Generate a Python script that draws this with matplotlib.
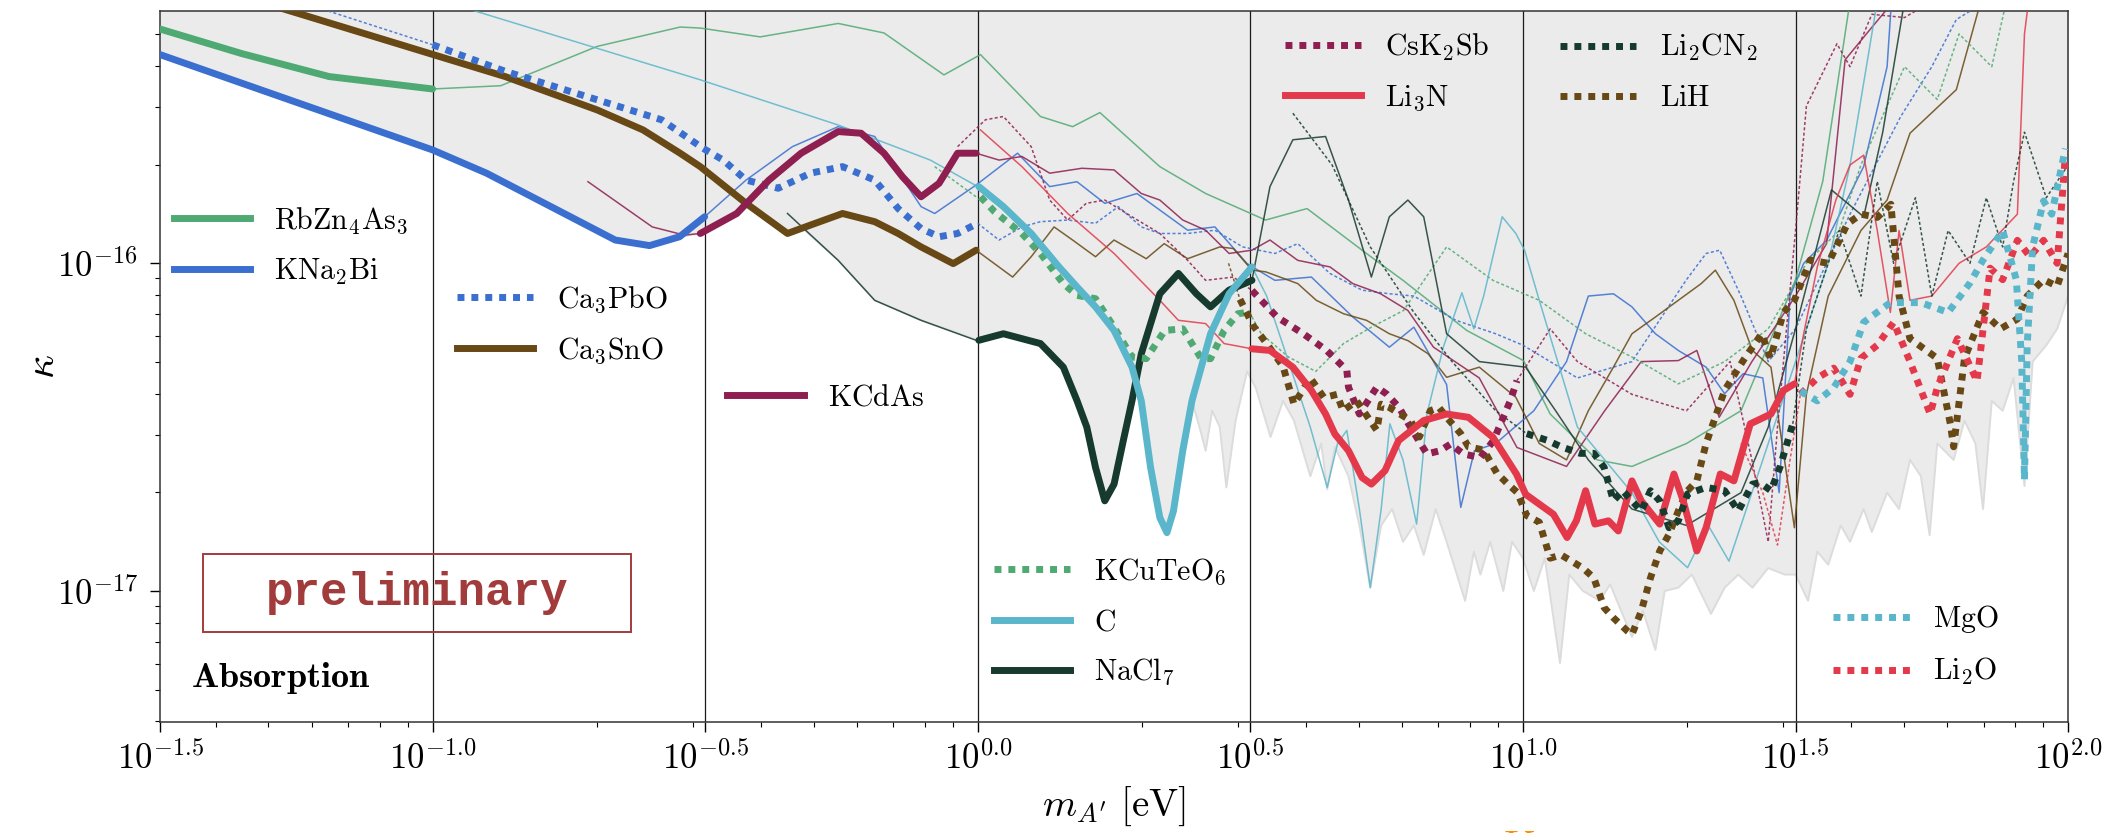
import numpy as np
import matplotlib
matplotlib.use("Agg")
import matplotlib.pyplot as plt
from matplotlib.lines import Line2D
from matplotlib.patches import Rectangle
from matplotlib.ticker import FixedLocator, FixedFormatter, LogLocator, NullFormatter

plt.rcParams['mathtext.fontset'] = 'cm'
plt.rcParams['font.family'] = ['DejaVu Serif']

# ---------------------------------------------------------------------------
# Data: log10 of dark-photon mass m_A' [eV] and log10 of kinetic mixing kappa
# ---------------------------------------------------------------------------

# RbZn4As3
rbzn_thick_lm = [-1.5, -1.35, -1.19, -1.0]
rbzn_thick_lk = [-15.285, -15.36, -15.43, -15.468]
rbzn_thin_lm = [-1.0, -0.875, -0.698, -0.546, -0.509, -0.399, -0.256, -0.172, -0.062, 0.005,
                0.115, 0.174, 0.224, 0.334, 0.418, 0.528, 0.604, 0.713, 0.78, 0.897, 1.001,
                1.05, 1.136, 1.2, 1.3, 1.4, 1.5, 1.55, 1.6, 1.62]
rbzn_thin_lk = [-15.468, -15.458, -15.338, -15.279, -15.282, -15.309, -15.268, -15.297, -15.425, -15.363,
                -15.552, -15.583, -15.54, -15.705, -15.787, -15.868, -15.833, -15.97, -16.052, -16.205, -16.297,
                -16.46, -16.6, -16.62, -16.55, -16.45, -16.05, -15.75, -15.2, -15.1]

# KNa2Bi
kna_thick_lm = [-1.5, -1.0, -0.901, -0.665, -0.602, -0.547, -0.501]
kna_thick_lk = [-15.363, -15.654, -15.725, -15.929, -15.946, -15.919, -15.858]
kna_thin_lm = [-0.501, -0.425, -0.34, -0.256, -0.189, -0.104, -0.079, -0.003, 0.073, 0.132, 0.182,
               0.233, 0.292, 0.385, 0.435, 0.494, 0.545, 0.612, 0.688, 0.755, 0.80, 0.86, 0.886,
               0.911, 0.95, 1.02, 1.08, 1.12, 1.166, 1.2, 1.243, 1.285, 1.336, 1.37, 1.404, 1.44,
               1.47, 1.49, 1.515, 1.557, 1.625, 1.668, 1.68]
kna_thin_lk = [-15.858, -15.746, -15.644, -15.583, -15.613, -15.827, -15.848, -15.761, -15.664, -15.766, -15.751,
               -15.817, -15.787, -15.899, -15.889, -16.001, -16.052, -16.042, -16.164, -16.256, -16.195, -16.37, -16.745,
               -16.572, -16.55, -16.45, -16.3, -16.1, -16.093, -16.133, -16.215, -16.266, -16.317, -16.398, -16.337, -16.35,
               -16.7, -16.1, -16.0, -15.93, -15.705, -15.4, -15.1]

# Ca3PbO
capb_pre_lm = [-1.21, -1.0]
capb_pre_lk = [-15.22, -15.333]
capb_thick_lm = [-1.0, -0.867, -0.698, -0.58, -0.504, -0.467, -0.425, -0.366, -0.307, -0.248, -0.189,
                 -0.146, -0.104, -0.071, -0.037, 0.0]
capb_thick_lk = [-15.333, -15.414, -15.501, -15.562, -15.649, -15.685, -15.746, -15.771, -15.725, -15.705, -15.746,
                 -15.833, -15.894, -15.919, -15.909, -15.878]
capb_thin_lm = [0.0, 0.039, 0.081, 0.115, 0.165, 0.216, 0.258, 0.3, 0.334, 0.385, 0.435, 0.486, 0.545, 0.587,
                0.646, 0.705, 0.755, 0.8, 0.877, 0.95, 1.0, 1.1, 1.2, 1.3, 1.336, 1.361, 1.4, 1.45, 1.5,
                1.6, 1.693, 1.75, 1.795, 1.85]
capb_thin_lk = [-15.878, -15.929, -15.889, -15.873, -15.868, -15.878, -15.827, -15.889, -15.909, -15.909, -15.899,
                -15.95, -15.97, -15.94, -16.031, -16.082, -16.093, -16.1, -16.174, -16.215, -16.25, -16.35, -16.3,
                -16.05, -15.97, -15.96, -16.1, -16.3, -16.2, -15.85, -15.552, -15.4, -15.256, -15.2]

# Ca3SnO
casn_thick_lm = [-1.32, -0.999, -0.867, -0.698, -0.614, -0.546, -0.509, -0.425, -0.349, -0.298, -0.248,
                 -0.189, -0.146, -0.104, -0.045, -0.003]
casn_thick_lk = [-15.2, -15.363, -15.43, -15.532, -15.593, -15.664, -15.705, -15.817, -15.909, -15.878, -15.848,
                 -15.873, -15.909, -15.95, -16.001, -15.96]
casn_thin_lm = [-0.003, 0.064, 0.098, 0.14, 0.174, 0.216, 0.25, 0.309, 0.342, 0.385, 0.444, 0.469, 0.503,
                0.528, 0.587, 0.621, 0.671, 0.713, 0.755, 0.789, 0.826, 0.86, 0.92, 0.987, 1.03, 1.08, 1.12,
                1.166, 1.2, 1.243, 1.285, 1.327, 1.353, 1.387, 1.421, 1.455, 1.498, 1.52, 1.56, 1.62, 1.668,
                1.71, 1.795, 1.84]
casn_thin_lk = [-15.96, -16.042, -15.98, -15.889, -15.929, -15.98, -15.929, -15.986, -15.94, -15.986, -15.95,
                -15.955, -16.021, -16.026, -16.062, -16.113, -16.154, -16.174, -16.215, -16.236, -16.276, -16.348,
                -16.317, -16.409, -16.55, -16.6, -16.45, -16.317, -16.215, -16.164, -16.113, -16.062, -16.021,
                -16.113, -16.266, -16.317, -16.807, -16.4, -16.1, -15.9, -15.807, -15.603, -15.47, -15.2]

# KCdAs
kcd_pre_lm = [-0.715, -0.597, -0.538, -0.509]
kcd_pre_lk = [-15.751, -15.889, -15.914, -15.909]
kcd_thick_lm = [-0.509, -0.442, -0.383, -0.324, -0.256, -0.214, -0.172, -0.138, -0.104, -0.071, -0.037, -0.003]
kcd_thick_lk = [-15.909, -15.848, -15.746, -15.664, -15.598, -15.603, -15.664, -15.736, -15.797, -15.756,
                -15.664, -15.664]
kcd_thin_lm = [-0.003, 0.039, 0.081, 0.132, 0.191, 0.25, 0.3, 0.334, 0.376, 0.418, 0.461, 0.503, 0.536, 0.587,
               0.646, 0.688, 0.739, 0.789, 0.836, 0.92, 0.989, 1.08, 1.15, 1.217, 1.285, 1.319, 1.36, 1.42,
               1.5, 1.557, 1.591, 1.63, 1.68]
kcd_thin_lk = [-15.664, -15.685, -15.674, -15.725, -15.71, -15.715, -15.787, -15.807, -15.868, -15.899, -15.97,
               -15.96, -15.929, -15.991, -16.011, -16.062, -16.093, -16.144, -16.256, -16.35, -16.562, -16.62,
               -16.45, -16.3, -16.297, -16.266, -16.47, -16.3, -16.1, -15.94, -15.379, -15.3, -15.2]

# KCuTeO6
kcu_pre_lm = [-0.079, -0.003]
kcu_pre_lk = [-15.705, -15.797]
kcu_thick_lm = [0.005, 0.031, 0.081, 0.115, 0.157, 0.182, 0.216, 0.25, 0.283, 0.309, 0.343, 0.376, 0.41,
                0.427, 0.452, 0.477, 0.498]
kcu_thick_lk = [-15.797, -15.843, -15.909, -15.97, -16.062, -16.098, -16.108, -16.195, -16.286, -16.291,
                -16.205, -16.2, -16.291, -16.291, -16.205, -16.154, -16.149]
kcu_thin_lm = [0.498, 0.52, 0.57, 0.62, 0.671, 0.722, 0.781, 0.86, 0.945, 1.03, 1.115, 1.2, 1.285, 1.37, 1.45,
               1.52, 1.58, 1.62, 1.7, 1.76, 1.8, 1.86, 1.9]
kcu_thin_lk = [-16.149, -16.215, -16.286, -16.33, -16.245, -16.195, -16.144, -15.95, -16.052, -16.113, -16.215,
               -16.286, -16.368, -16.3, -16.2, -16.0, -15.9, -15.7, -15.4, -15.5, -15.3, -15.4, -15.1]

# C
c_pre_lm = [-0.93, -0.509, -0.256, -0.087, 0.0]
c_pre_lk = [-15.226, -15.44, -15.578, -15.685, -15.766]
c_thick_lm = [0.002, 0.047, 0.098, 0.149, 0.182, 0.216, 0.25, 0.283, 0.3, 0.317, 0.334, 0.347, 0.359, 0.376,
              0.393, 0.427, 0.461, 0.503]
c_thick_lk = [-15.766, -15.827, -15.909, -16.011, -16.072, -16.133, -16.205, -16.317, -16.42, -16.623, -16.776,
              -16.822, -16.756, -16.572, -16.419, -16.215, -16.093, -16.011]
c_thin_lm = [0.503, 0.53, 0.57, 0.61, 0.641, 0.66, 0.677, 0.7, 0.72, 0.74, 0.756, 0.78, 0.805, 0.824, 0.854,
             0.888, 0.91, 0.928, 0.962, 0.987, 1.003, 1.03, 1.1, 1.2, 1.25, 1.302, 1.34, 1.378, 1.42, 1.46,
             1.5, 1.56, 1.6, 1.64, 1.66]
c_thin_lk = [-16.011, -16.1, -16.3, -16.5, -16.684, -16.55, -16.51, -16.75, -16.99, -16.75, -16.49, -16.6,
             -16.796, -16.46, -16.256, -16.09, -16.2, -16.1, -15.858, -15.909, -15.96, -16.113, -16.5, -16.7,
             -16.85, -16.929, -16.8, -16.909, -16.7, -16.5, -16.3, -16.0, -15.7, -15.3, -15.1]

# NaCl7
nacl_pre_lm = [-0.349, -0.256, -0.189, -0.104, -0.003]
nacl_pre_lk = [-15.848, -15.991, -16.113, -16.174, -16.235]
nacl_thick_lm = [0.002, 0.047, 0.115, 0.157, 0.182, 0.2, 0.216, 0.233, 0.25, 0.267, 0.283, 0.3, 0.334, 0.368,
                 0.401, 0.427, 0.461, 0.503]
nacl_thick_lk = [-16.235, -16.215, -16.245, -16.317, -16.419, -16.5, -16.623, -16.725, -16.674, -16.541,
                 -16.419, -16.276, -16.093, -16.031, -16.093, -16.133, -16.082, -16.052]
nacl_thin_lm = [0.503, 0.536, 0.578, 0.638, 0.68, 0.722, 0.755, 0.789, 0.818, 0.86, 0.92, 1.005, 1.06, 1.12,
                1.2, 1.3, 1.4, 1.45, 1.5, 1.566, 1.625, 1.66, 1.7]
nacl_thin_lk = [-16.052, -15.766, -15.623, -15.613, -15.807, -16.042, -15.858, -15.807, -15.858, -16.215, -16.3,
                -16.317, -16.45, -16.6, -16.75, -16.8, -16.7, -16.5, -16.2, -15.776, -15.858, -15.6, -15.2]

# CsK2Sb
csk_pre_lm = [-0.037, 0.014, 0.047, 0.098, 0.132, 0.165, 0.199, 0.233, 0.283, 0.334, 0.385, 0.418, 0.469, 0.503]
csk_pre_lk = [-15.644, -15.562, -15.552, -15.644, -15.807, -15.868, -15.817, -15.807, -15.858, -15.909, -15.991,
              -16.052, -16.042, -16.083]
csk_thick_lm = [0.503, 0.549, 0.597, 0.64, 0.677, 0.68, 0.70, 0.732, 0.75, 0.773, 0.79, 0.824, 0.848, 0.867,
                0.891, 0.922, 0.946, 0.964, 0.977, 0.989]
csk_thick_lk = [-16.083, -16.164, -16.215, -16.266, -16.327, -16.378, -16.46, -16.378, -16.399, -16.44, -16.49,
                -16.582, -16.572, -16.552, -16.582, -16.593, -16.541, -16.47, -16.419, -16.358]
csk_thin_lm = [0.989, 1.05, 1.1, 1.2, 1.3, 1.38, 1.42, 1.45, 1.467, 1.5, 1.52, 1.576, 1.6, 1.64, 1.7, 1.75]
csk_thin_lk = [-16.358, -16.2, -16.3, -16.4, -16.45, -16.3, -16.6, -16.85, -16.5, -15.9, -15.52, -15.33, -15.4,
               -15.24, -15.25, -15.2]

# Li3N
li3n_pre_lm = [0.005, 0.081, 0.165, 0.25, 0.334, 0.368, 0.418, 0.452, 0.503]
li3n_pre_lk = [-15.593, -15.705, -15.848, -15.97, -16.113, -16.174, -16.184, -16.245, -16.261]
li3n_thick_lm = [0.503, 0.536, 0.578, 0.612, 0.638, 0.655, 0.68, 0.705, 0.722, 0.747, 0.772, 0.818, 0.86, 0.9,
                 0.945, 0.988, 1.005, 1.03, 1.056, 1.081, 1.098, 1.115, 1.132, 1.157, 1.175, 1.2, 1.217, 1.251,
                 1.277, 1.294, 1.319, 1.336, 1.362, 1.387, 1.417, 1.455, 1.478, 1.498]
li3n_thick_lk = [-16.261, -16.266, -16.317, -16.388, -16.46, -16.521, -16.572, -16.654, -16.674, -16.633,
                 -16.541, -16.48, -16.46, -16.47, -16.531, -16.643, -16.705, -16.735, -16.766, -16.837, -16.786,
                 -16.694, -16.796, -16.786, -16.817, -16.664, -16.725, -16.796, -16.643, -16.725, -16.878, -16.807,
                 -16.643, -16.664, -16.49, -16.46, -16.388, -16.368]
li3n_thin_lm = [1.498, 1.515, 1.54, 1.574, 1.6, 1.625, 1.65, 1.674, 1.69, 1.71, 1.75, 1.8, 1.85, 1.907, 1.92, 1.935]
li3n_thin_lk = [-16.368, -16.215, -16.011, -15.807, -15.7, -15.67, -15.9, -16.15, -15.9, -16.113, -16.1, -16.0,
                -15.95, -15.85, -15.3, -15.1]

# Li2CN2
licn_pre_lm = [0.578, 0.65, 0.72, 0.8, 0.87, 0.95, 1.007]
licn_pre_lk = [-15.542, -15.7, -15.95, -16.15, -16.3, -16.45, -16.52]
licn_thick_lm = [1.007, 1.044, 1.07, 1.105, 1.13, 1.149, 1.166, 1.183, 1.217, 1.234, 1.251, 1.268, 1.285,
                 1.302, 1.319, 1.336, 1.37, 1.395, 1.421, 1.435, 1.455, 1.472, 1.495]
licn_thick_lk = [-16.52, -16.54, -16.56, -16.58, -16.58, -16.623, -16.725, -16.694, -16.756, -16.694, -16.725,
                 -16.807, -16.786, -16.704, -16.694, -16.684, -16.694, -16.756, -16.674, -16.67, -16.694, -16.62,
                 -16.49]
licn_thin_lm = [1.495, 1.52, 1.55, 1.58, 1.62, 1.65, 1.68, 1.72, 1.75, 1.78, 1.82, 1.85, 1.88, 1.9, 1.92, 1.96, 2.0]
licn_thin_lk = [-16.49, -16.2, -16.05, -15.9, -16.1, -15.75, -16.0, -15.8, -16.1, -15.9, -16.0, -15.8, -15.95,
                -15.75, -15.6, -15.8, -15.7]

# LiH
lih_pre_lm = [0.46, 0.481]
lih_pre_lk = [-16.0, -16.11]
lih_thick_lm = [0.481, 0.505, 0.53, 0.56, 0.58, 0.61, 0.635, 0.659, 0.67, 0.695, 0.732, 0.74, 0.755, 0.794,
                0.81, 0.83, 0.846, 0.86, 0.886, 0.90, 0.928, 0.952, 0.97, 0.99, 1.007, 1.03, 1.05, 1.07, 1.11,
                1.13, 1.149, 1.166, 1.192, 1.2, 1.217, 1.234, 1.251, 1.268, 1.285, 1.302, 1.319, 1.336, 1.37,
                1.404, 1.438, 1.454, 1.478, 1.498, 1.527, 1.56, 1.595, 1.62, 1.65, 1.675, 1.69, 1.71, 1.76,
                1.784, 1.79, 1.81, 1.844, 1.876, 1.907, 1.925, 1.955, 1.98, 2.0]
lih_thick_lk = [-16.11, -16.19, -16.245, -16.315, -16.43, -16.35, -16.41, -16.4, -16.45, -16.42, -16.51, -16.43,
                -16.44, -16.48, -16.53, -16.45, -16.44, -16.47, -16.52, -16.56, -16.57, -16.64, -16.67, -16.7,
                -16.77, -16.79, -16.9, -16.89, -16.93, -16.96, -17.051, -17.082, -17.123, -17.133, -17.062,
                -16.96, -16.878, -16.827, -16.756, -16.694, -16.664, -16.55, -16.388, -16.297, -16.215, -16.29,
                -16.15, -16.113, -15.99, -16.0, -15.88, -15.85, -15.86, -15.82, -16.1, -16.23, -16.29, -16.49,
                -16.56, -16.29, -16.15, -16.2, -16.17, -16.1, -16.05, -16.07, -15.97]

# MgO
mgo_thick_lm = [1.509, 1.54, 1.57, 1.6, 1.625, 1.674, 1.73, 1.78, 1.82, 1.844, 1.88, 1.905, 1.915, 1.92, 1.925,
                1.935, 1.955, 1.97, 1.995]
mgo_thick_lk = [-16.39, -16.42, -16.38, -16.3, -16.18, -16.12, -16.12, -16.15, -16.06, -15.99, -15.9, -16.05,
                -16.3, -16.66, -16.25, -15.95, -15.81, -15.85, -15.65]

# Li2O
li2o_pre_lm = [1.40, 1.44, 1.467, 1.49, 1.509]
li2o_pre_lk = [-16.55, -16.7, -16.86, -16.6, -16.4]
li2o_thick_lm = [1.509, 1.54, 1.57, 1.6, 1.62, 1.65, 1.68, 1.71, 1.747, 1.76, 1.797, 1.833, 1.857, 1.88, 1.907,
                 1.93, 1.955, 1.98, 1.995]
li2o_thick_lk = [-16.4, -16.35, -16.32, -16.4, -16.29, -16.25, -16.18, -16.3, -16.46, -16.38, -16.23, -16.36,
                 -16.015, -16.05, -15.93, -15.98, -15.93, -16.0, -15.67]

# Lower edge of the combined reach (grey band)
env_lm = [-1.5, -1.0, -0.9, -0.665, -0.602, -0.547, -0.509, -0.47, -0.425, -0.383, -0.349, -0.32, -0.256,
          -0.189, -0.104, 0.0, 0.047, 0.115, 0.157, 0.182, 0.2, 0.216, 0.233, 0.25, 0.267, 0.283, 0.29, 0.3,
          0.317, 0.334, 0.347, 0.359, 0.376, 0.393, 0.41, 0.418, 0.43, 0.444, 0.456, 0.473, 0.494, 0.51, 0.537,
          0.56, 0.58, 0.61, 0.63, 0.641, 0.655, 0.68, 0.7, 0.72, 0.74, 0.76, 0.78, 0.80, 0.818, 0.84, 0.86,
          0.894, 0.91, 0.922, 0.94, 0.964, 0.98, 1.0, 1.02, 1.04, 1.068, 1.085, 1.11, 1.141, 1.16, 1.2, 1.22,
          1.243, 1.26, 1.285, 1.31, 1.345, 1.37, 1.395, 1.421, 1.45, 1.48, 1.5, 1.523, 1.54, 1.56, 1.583, 1.6,
          1.625, 1.64, 1.668, 1.69, 1.71, 1.73, 1.746, 1.76, 1.79, 1.81, 1.83, 1.844, 1.86, 1.88, 1.9, 1.92,
          1.935, 1.96, 1.98, 2.0]
env_lk = [-15.363, -15.654, -15.725, -15.929, -15.946, -15.919, -15.909, -15.87, -15.82, -15.865, -15.909,
          -15.895, -15.991, -16.113, -16.174, -16.235, -16.215, -16.245, -16.317, -16.419, -16.5, -16.623,
          -16.725, -16.674, -16.541, -16.419, -16.36, -16.42, -16.623, -16.776, -16.822, -16.756, -16.572,
          -16.419, -16.52, -16.572, -16.45, -16.5, -16.684, -16.48, -16.33, -16.38, -16.53, -16.42, -16.48,
          -16.65, -16.55, -16.69, -16.56, -16.65, -16.8, -16.99, -16.8, -16.75, -16.85, -16.8, -16.89, -16.75,
          -16.85, -17.03, -16.88, -16.95, -16.85, -17.0, -16.85, -16.9, -17.0, -16.9, -17.22, -16.95, -17.0,
          -17.03, -16.98, -17.14, -17.06, -17.18, -17.0, -16.99, -16.95, -17.07, -16.99, -16.95, -16.99, -16.93,
          -16.95, -16.95, -17.03, -16.88, -16.92, -16.8, -16.85, -16.75, -16.82, -16.7, -16.75, -16.6, -16.65,
          -16.83, -16.55, -16.6, -16.48, -16.55, -16.75, -16.42, -16.45, -16.35, -16.68, -16.3, -16.25, -16.2,
          -16.1]

# Axis ticks
xtick_exp = [-1.5, -1.0, -0.5, 0.0, 0.5, 1.0, 1.5, 2.0]
xtick_labels = [r'$10^{-1.5}$', r'$10^{-1.0}$', r'$10^{-0.5}$', r'$10^{0.0}$',
                r'$10^{0.5}$', r'$10^{1.0}$', r'$10^{1.5}$', r'$10^{2.0}$']
ytick_exp = [-17, -16]
ytick_labels = [r'$10^{-17}$', r'$10^{-16}$']

# Colours
GREEN = '#4fa972'
BLUE = '#3a6fd0'
BROWN = '#684814'
MAROON = '#8e1f50'
CYAN = '#5ab6ca'
DARK = '#173a2e'
RED = '#e3394b'

THIN_LW = 1.1
THICK_LW = 5.0
DOT_THICK = (0, (1, 1))
DOT_THIN = (0, (2, 1.5))


def draw(ax, lm, lk, color, thick=False, dotted=False, z=3):
    x = 10 ** np.asarray(lm, dtype=float)
    y = 10 ** np.asarray(lk, dtype=float)
    if thick:
        ls = DOT_THICK if dotted else '-'
        ax.plot(x, y, color=color, lw=THICK_LW, ls=ls, dash_capstyle='butt',
                solid_capstyle='round', zorder=z + 2)
    else:
        ls = DOT_THIN if dotted else '-'
        ax.plot(x, y, color=color, lw=THIN_LW, ls=ls, alpha=0.85, zorder=z)


fig = plt.figure(figsize=(21.26, 8.33), dpi=100)
ax = fig.add_axes([0.07526, 0.13325, 0.8975, 0.85354])
ax.set_xscale('log')
ax.set_yscale('log')
ax.set_xlim(10 ** -1.5, 10 ** 2.0)
ax.set_ylim(10 ** -17.40, 10 ** -15.23)

# grey reach region
ex = 10 ** np.asarray(env_lm)
ey = 10 ** np.asarray(env_lk)
ax.fill_between(ex, ey, 10 ** -15.0, color='#ebebeb', lw=0, zorder=0)
ax.plot(ex, ey, color='#dcdcdc', lw=1.4, zorder=0.5)

# vertical guide lines
for e in xtick_exp[1:-1]:
    ax.axvline(10 ** e, color='#1a1a1a', lw=0.9, zorder=1.5)

# thin full curves
draw(ax, rbzn_thin_lm, rbzn_thin_lk, GREEN)
draw(ax, kna_thin_lm, kna_thin_lk, BLUE)
draw(ax, capb_pre_lm, capb_pre_lk, BLUE, dotted=True)
draw(ax, capb_thin_lm, capb_thin_lk, BLUE, dotted=True)
draw(ax, casn_thin_lm, casn_thin_lk, BROWN)
draw(ax, kcd_pre_lm, kcd_pre_lk, MAROON)
draw(ax, kcd_thin_lm, kcd_thin_lk, MAROON)
draw(ax, kcu_pre_lm, kcu_pre_lk, GREEN, dotted=True)
draw(ax, kcu_thin_lm, kcu_thin_lk, GREEN, dotted=True)
draw(ax, c_pre_lm, c_pre_lk, CYAN)
draw(ax, c_thin_lm, c_thin_lk, CYAN)
draw(ax, nacl_pre_lm, nacl_pre_lk, DARK)
draw(ax, nacl_thin_lm, nacl_thin_lk, DARK)
draw(ax, csk_pre_lm, csk_pre_lk, MAROON, dotted=True)
draw(ax, csk_thin_lm, csk_thin_lk, MAROON, dotted=True)
draw(ax, li3n_pre_lm, li3n_pre_lk, RED)
draw(ax, li3n_thin_lm, li3n_thin_lk, RED)
draw(ax, licn_pre_lm, licn_pre_lk, DARK, dotted=True)
draw(ax, licn_thin_lm, licn_thin_lk, DARK, dotted=True)
draw(ax, lih_pre_lm, lih_pre_lk, BROWN, dotted=True)
draw(ax, li2o_pre_lm, li2o_pre_lk, RED, dotted=True)

# thick best-reach segments
draw(ax, rbzn_thick_lm, rbzn_thick_lk, GREEN, thick=True)
draw(ax, kna_thick_lm, kna_thick_lk, BLUE, thick=True)
draw(ax, casn_thick_lm, casn_thick_lk, BROWN, thick=True)
draw(ax, capb_thick_lm, capb_thick_lk, BLUE, thick=True, dotted=True)
draw(ax, kcd_thick_lm, kcd_thick_lk, MAROON, thick=True)
draw(ax, nacl_thick_lm, nacl_thick_lk, DARK, thick=True)
draw(ax, kcu_thick_lm, kcu_thick_lk, GREEN, thick=True, dotted=True)
draw(ax, c_thick_lm, c_thick_lk, CYAN, thick=True)
draw(ax, csk_thick_lm, csk_thick_lk, MAROON, thick=True, dotted=True)
draw(ax, lih_thick_lm, lih_thick_lk, BROWN, thick=True, dotted=True)
draw(ax, li3n_thick_lm, li3n_thick_lk, RED, thick=True)
draw(ax, licn_thick_lm, licn_thick_lk, DARK, thick=True, dotted=True)
draw(ax, li2o_thick_lm, li2o_thick_lk, RED, thick=True, dotted=True)
draw(ax, mgo_thick_lm, mgo_thick_lk, CYAN, thick=True, dotted=True)

# ticks
ax.xaxis.set_major_locator(FixedLocator([10 ** e for e in xtick_exp]))
ax.xaxis.set_major_formatter(FixedFormatter(xtick_labels))
ax.xaxis.set_minor_locator(LogLocator(base=10, subs=np.arange(2, 10) * 1.0, numticks=100))
ax.xaxis.set_minor_formatter(NullFormatter())
ax.yaxis.set_major_locator(FixedLocator([10.0 ** e for e in ytick_exp]))
ax.yaxis.set_major_formatter(FixedFormatter(ytick_labels))
ax.yaxis.set_minor_locator(LogLocator(base=10, subs=np.arange(2, 10) * 1.0, numticks=100))
ax.yaxis.set_minor_formatter(NullFormatter())
ax.tick_params(which='major', direction='out', length=7, width=1.0, labelsize=25, pad=7)
ax.tick_params(which='minor', direction='out', length=3.5, width=0.8)
ax.tick_params(axis='y', which='major', pad=9)
for sp in ax.spines.values():
    sp.set_linewidth(1.1)
    sp.set_color('#333333')

ax.set_xlabel(r"$m_{A^{\prime}}\ [\mathrm{eV}]$", fontsize=28)
ax.xaxis.set_label_coords(0.5, -0.088)
ax.set_ylabel(r'$\kappa$', fontsize=30)
ax.yaxis.set_label_coords(-0.051, 0.5)

# legends
def legend_group(entries, anchor, last=False):
    handles = []
    labels = []
    for color, dotted, label in entries:
        handles.append(Line2D([], [], color=color, lw=THICK_LW,
                              ls=DOT_THICK if dotted else '-', dash_capstyle='butt'))
        labels.append(label)
    leg = ax.legend(handles, labels, loc='center left', bbox_to_anchor=anchor, frameon=False,
                    fontsize=21.5, handlelength=2.55, handletextpad=0.8, labelspacing=0.7,
                    borderpad=0, borderaxespad=0)
    leg.set_zorder(10)
    if not last:
        ax.add_artist(leg)


legend_group([(GREEN, False, r'$\mathrm{RbZn_4As_3}$'), (BLUE, False, r'$\mathrm{KNa_2Bi}$')],
             (0.0073, 0.6695))
legend_group([(BLUE, True, r'$\mathrm{Ca_3PbO}$'), (BROWN, False, r'$\mathrm{Ca_3SnO}$')],
             (0.1557, 0.5584))
legend_group([(MAROON, False, r'$\mathrm{KCdAs}$')], (0.2974, 0.457))
legend_group([(GREEN, True, r'$\mathrm{KCuTeO_6}$'), (CYAN, False, r'$\mathrm{C}$'),
              (DARK, False, r'$\mathrm{NaCl_7}$')], (0.437, 0.1406))
legend_group([(MAROON, True, r'$\mathrm{CsK_2Sb}$'), (RED, False, r'$\mathrm{Li_3N}$')],
             (0.5896, 0.914))
legend_group([(DARK, True, r'$\mathrm{Li_2CN_2}$'), (BROWN, True, r'$\mathrm{LiH}$')],
             (0.7338, 0.914))
legend_group([(CYAN, True, r'$\mathrm{MgO}$'), (RED, True, r'$\mathrm{Li_2O}$')],
             (0.877, 0.108), last=True)

# annotations
ax.add_patch(Rectangle((0.0225, 0.1266), 0.2244, 0.1097, transform=ax.transAxes, fill=False,
                       ec='#a23b3b', lw=1.4, zorder=6))
ax.text(0.1347, 0.1814, 'preliminary', transform=ax.transAxes, family='Liberation Mono',
        weight='bold', fontsize=33, color='#a23b3b', ha='center', va='center', zorder=6)
ax.text(0.016, 0.062, r'$\mathbf{Absorption}$', transform=ax.transAxes, fontsize=26,
        ha='left', va='center', zorder=6)

fig.text(1516 / 2126, 5 / 833, r'$\mathit{K}$', color='#ff8c00', fontsize=30, ha='center', va='top')

fig.savefig('out.png', dpi=100)
